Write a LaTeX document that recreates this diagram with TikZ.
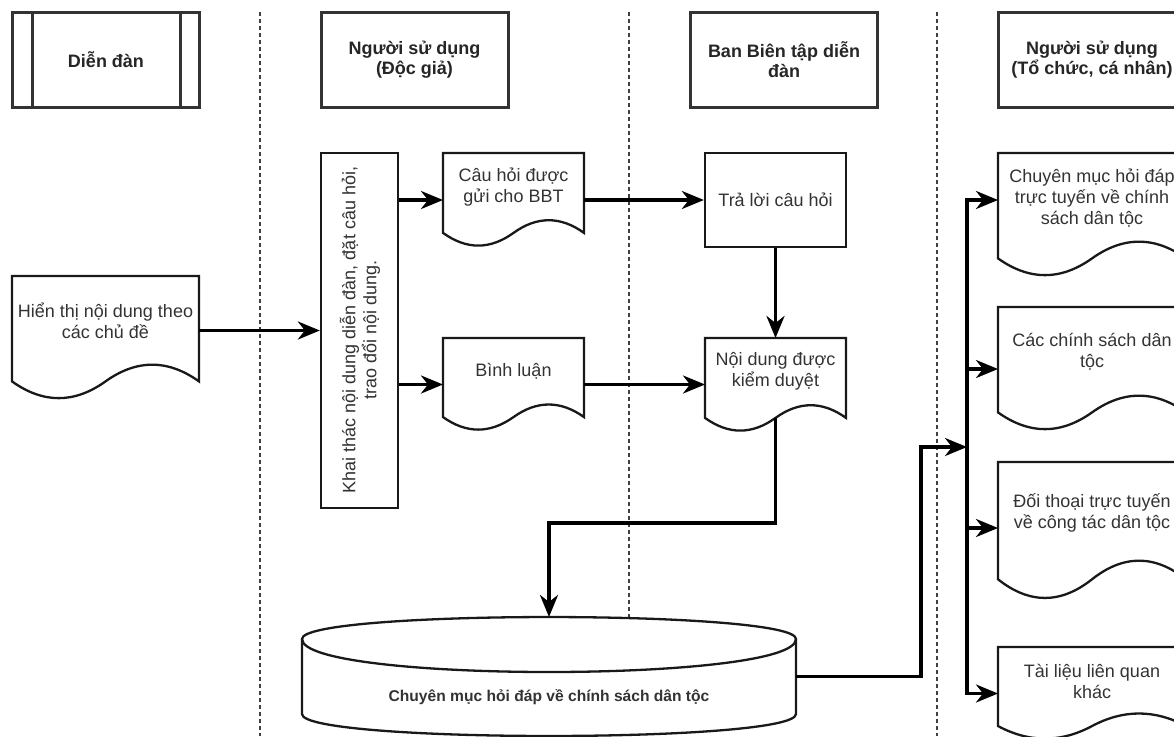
\documentclass[tikz,border=0pt]{standalone}
\usepackage{fontspec}
\setmainfont{Liberation Sans}
\usetikzlibrary{arrows.meta}
\newcommand\docshape[5]{%
  \node[inner sep=0pt, outer sep=0pt, minimum width=#4pt, minimum height=#5pt] (#1) at ({#2+#4/2},{#3+#5/2}) {};
  \draw[shapeline] (#2,#3) -- ({#2+#4},#3) -- ({#2+#4},{#3+0.85*#5})
    .. controls ({#2+0.8333*#4},{#3+0.67*#5}) and ({#2+0.6667*#4},{#3+0.67*#5}) .. ({#2+0.5*#4},{#3+0.85*#5})
    .. controls ({#2+0.3333*#4},{#3+1.03*#5}) and ({#2+0.1667*#4},{#3+1.03*#5}) .. (#2,{#3+0.85*#5}) -- cycle;
}
\begin{document}
\begin{tikzpicture}[x=1pt,y=-1pt,
  shapeline/.style={draw=black!90, fill=white, line width=2.3pt, line join=miter},
  hdr/.style={draw=black!80, fill=white, line width=3pt, inner sep=0pt, minimum width=187pt, minimum height=95pt,
    align=center, font=\bfseries\fontsize{18}{20}\selectfont, text=black!85},
  rbox/.style={shapeline, inner sep=0pt, align=center, font=\fontsize{18}{21}\selectfont, text=black!80},
  txt/.style={align=center, inner sep=0pt, font=\fontsize{18}{21}\selectfont, text=black!80},
  lane/.style={draw=black!75, line width=1.1pt, dash pattern=on 4pt off 3pt},
  arr/.style={draw=black, line width=3.5pt, -{Stealth[length=22pt,width=18pt,inset=7pt]}},
  link/.style={draw=black, line width=3.5pt}
]
\clip (0,0) rectangle (1174,736);
\fill[white] (0,0) rectangle (1174,736);

% swimlane separators
\draw[lane] (260,12) -- (260,736);
\draw[lane] (629,12) -- (629,736);
\draw[lane] (937,12) -- (937,736);

% headers
\node[hdr] (h1) at (106,59.5) {Diễn đàn};
\draw[draw=black!80, line width=3pt] (32,12) -- (32,107) (180,12) -- (180,107);
\node[hdr] (h2) at (414.5,59.5) {Người sử dụng\\(Độc giả)};
\node[hdr] (h3) at (784,59.5) {Ban Biên tập diễn\\đàn};
\node[hdr] (h4) at (1092,59.5) {Người sử dụng\\(Tổ chức, cá nhân)};

% lane 1
\docshape{hs}{12}{276}{187}{124}
\node[txt] (hs-t) at (105.5,321) {Hiển thị nội dung theo\\các chủ đề};

% lane 2
\node[rbox, minimum width=77pt, minimum height=355pt] (kt) at (359.5,330.5) {};
\node[txt, rotate=90] (kt-t) at (360,330) {Khai thác nội dung diễn đàn, đặt câu hỏi,\\trao đổi nội dung.};
\docshape{cq}{443}{153}{141}{94}
\node[txt] (cq-t) at (513.5,187) {Câu hỏi được\\gửi cho BBT};
\docshape{bl}{443}{338}{141}{93}
\node[txt] (bl-t) at (513.5,371) {Bình luận};

% lane 3
\node[rbox, minimum width=141pt, minimum height=94pt] (tl) at (775.5,200) {Trả lời câu hỏi};
\docshape{nd}{705}{338}{141}{94}
\node[txt] (nd-t) at (775.5,371) {Nội dung được\\kiểm duyệt};

% database cylinder
\node[inner sep=0pt, outer sep=0pt, minimum width=494pt, minimum height=119pt] (cyl) at (549,676.5) {};
\draw[shapeline] (302,639) .. controls (302,609.7) and (796,609.7) .. (796,639) -- (796,714)
  .. controls (796,743.3) and (302,743.3) .. (302,714) -- cycle;
\draw[shapeline, fill=none] (302,639) .. controls (302,683) and (796,683) .. (796,639);
\node[txt, font=\bfseries\fontsize{15.6}{18}\selectfont] (cyl-t) at (549,697) {Chuyên mục hỏi đáp về chính sách dân tộc};

% lane 4
\docshape{d1}{998}{153}{188}{124}
\node[txt] (d1-t) at (1092,198) {Chuyên mục hỏi đáp\\trực tuyến về chính\\sách dân tộc};
\docshape{d2}{998}{307}{188}{124}
\node[txt] (d2-t) at (1092,351.5) {Các chính sách dân\\tộc};
\docshape{d3}{998}{462}{188}{138}
\node[txt] (d3-t) at (1092,512.5) {Đối thoại trực tuyến\\về công tác dân tộc};
\docshape{d4}{998}{647}{188}{93}
\node[txt] (d4-t) at (1092,681) {Tài liệu liên quan\\khác};

% connectors
\draw[arr] (hs.east |- kt.west) -- (kt.west);
\draw[arr] (kt.east |- cq.west) -- (cq.west);
\draw[arr] (kt.east |- bl.west) -- (bl.west);
\draw[arr] (cq.east) -- (tl.west);
\draw[arr] (tl.south) -- (nd.north);
\draw[arr] (bl.east) -- (nd.west |- bl.east);
\draw[arr] ([yshift=14pt]nd.south) -- ++(0,105) -| (cyl.north);
\coordinate (bus) at (967,447);
\draw[arr] (cyl.east) -- ++(125,0) |- (bus);
\draw[link] (967,200) -- (967,695);
\draw[arr] (bus) |- ([yshift=-47pt]d1.north west);
\draw[arr] (bus) |- (d2.west);
\draw[arr] (bus) |- ([yshift=-66pt]d3.north west);
\draw[arr] (bus) |- (d4.west);
\end{tikzpicture}
\end{document}
